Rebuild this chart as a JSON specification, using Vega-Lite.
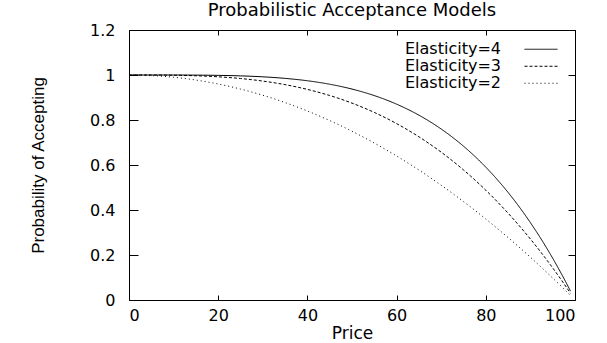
{
  "$schema": "https://vega.github.io/schema/vega-lite/v6.json",
  "width": 446,
  "height": 270,
  "autosize": {"type": "none"},
  "padding": {"left": 129, "top": 30, "right": 32, "bottom": 43},
  "background": "white",
  "config": {
    "font": "DejaVu Sans",
    "view": {"stroke": "black", "strokeWidth": 1},
    "axis": {"grid": false, "domainColor": "black", "tickColor": "black", "labelColor": "black", "titleColor": "black", "labelFont": "DejaVu Sans", "titleFont": "DejaVu Sans", "titleFontWeight": "normal", "labelFontSize": 16, "titleFontSize": 17}
  },
  "title": {"text": "Probabilistic Acceptance Models", "font": "DejaVu Sans", "fontSize": 18, "fontWeight": "normal", "color": "black", "offset": 2},
  "data": {"values": [
    {"price": 0, "prob": 1, "series": "Elasticity=4"},
    {"price": 5, "prob": 0.99999, "series": "Elasticity=4"},
    {"price": 10, "prob": 0.9999, "series": "Elasticity=4"},
    {"price": 15, "prob": 0.9995, "series": "Elasticity=4"},
    {"price": 20, "prob": 0.9984, "series": "Elasticity=4"},
    {"price": 25, "prob": 0.9961, "series": "Elasticity=4"},
    {"price": 30, "prob": 0.9919, "series": "Elasticity=4"},
    {"price": 35, "prob": 0.985, "series": "Elasticity=4"},
    {"price": 40, "prob": 0.9744, "series": "Elasticity=4"},
    {"price": 45, "prob": 0.959, "series": "Elasticity=4"},
    {"price": 50, "prob": 0.9375, "series": "Elasticity=4"},
    {"price": 55, "prob": 0.9085, "series": "Elasticity=4"},
    {"price": 60, "prob": 0.8704, "series": "Elasticity=4"},
    {"price": 65, "prob": 0.8215, "series": "Elasticity=4"},
    {"price": 70, "prob": 0.7599, "series": "Elasticity=4"},
    {"price": 75, "prob": 0.6836, "series": "Elasticity=4"},
    {"price": 80, "prob": 0.5904, "series": "Elasticity=4"},
    {"price": 85, "prob": 0.478, "series": "Elasticity=4"},
    {"price": 90, "prob": 0.3439, "series": "Elasticity=4"},
    {"price": 95, "prob": 0.1855, "series": "Elasticity=4"},
    {"price": 97, "prob": 0.1147, "series": "Elasticity=4"},
    {"price": 99, "prob": 0.0394, "series": "Elasticity=4"},
    {"price": 0, "prob": 1, "series": "Elasticity=3"},
    {"price": 5, "prob": 0.999875, "series": "Elasticity=3"},
    {"price": 10, "prob": 0.999, "series": "Elasticity=3"},
    {"price": 15, "prob": 0.996625, "series": "Elasticity=3"},
    {"price": 20, "prob": 0.992, "series": "Elasticity=3"},
    {"price": 25, "prob": 0.984375, "series": "Elasticity=3"},
    {"price": 30, "prob": 0.973, "series": "Elasticity=3"},
    {"price": 35, "prob": 0.957125, "series": "Elasticity=3"},
    {"price": 40, "prob": 0.936, "series": "Elasticity=3"},
    {"price": 45, "prob": 0.908875, "series": "Elasticity=3"},
    {"price": 50, "prob": 0.875, "series": "Elasticity=3"},
    {"price": 55, "prob": 0.833625, "series": "Elasticity=3"},
    {"price": 60, "prob": 0.784, "series": "Elasticity=3"},
    {"price": 65, "prob": 0.725375, "series": "Elasticity=3"},
    {"price": 70, "prob": 0.657, "series": "Elasticity=3"},
    {"price": 75, "prob": 0.578125, "series": "Elasticity=3"},
    {"price": 80, "prob": 0.488, "series": "Elasticity=3"},
    {"price": 85, "prob": 0.385875, "series": "Elasticity=3"},
    {"price": 90, "prob": 0.271, "series": "Elasticity=3"},
    {"price": 95, "prob": 0.142625, "series": "Elasticity=3"},
    {"price": 97, "prob": 0.0873, "series": "Elasticity=3"},
    {"price": 99, "prob": 0.0297, "series": "Elasticity=3"},
    {"price": 0, "prob": 1, "series": "Elasticity=2"},
    {"price": 5, "prob": 0.9975, "series": "Elasticity=2"},
    {"price": 10, "prob": 0.99, "series": "Elasticity=2"},
    {"price": 15, "prob": 0.9775, "series": "Elasticity=2"},
    {"price": 20, "prob": 0.96, "series": "Elasticity=2"},
    {"price": 25, "prob": 0.9375, "series": "Elasticity=2"},
    {"price": 30, "prob": 0.91, "series": "Elasticity=2"},
    {"price": 35, "prob": 0.8775, "series": "Elasticity=2"},
    {"price": 40, "prob": 0.84, "series": "Elasticity=2"},
    {"price": 45, "prob": 0.7975, "series": "Elasticity=2"},
    {"price": 50, "prob": 0.75, "series": "Elasticity=2"},
    {"price": 55, "prob": 0.6975, "series": "Elasticity=2"},
    {"price": 60, "prob": 0.64, "series": "Elasticity=2"},
    {"price": 65, "prob": 0.5775, "series": "Elasticity=2"},
    {"price": 70, "prob": 0.51, "series": "Elasticity=2"},
    {"price": 75, "prob": 0.4375, "series": "Elasticity=2"},
    {"price": 80, "prob": 0.36, "series": "Elasticity=2"},
    {"price": 85, "prob": 0.2775, "series": "Elasticity=2"},
    {"price": 90, "prob": 0.19, "series": "Elasticity=2"},
    {"price": 95, "prob": 0.0975, "series": "Elasticity=2"},
    {"price": 97, "prob": 0.0591, "series": "Elasticity=2"},
    {"price": 99, "prob": 0.0199, "series": "Elasticity=2"}
  ]},
  "layer": [
    {
      "mark": {"type": "line", "color": "black", "strokeWidth": 1, "interpolate": "monotone"},
      "encoding": {
        "x": {"field": "price", "type": "quantitative", "scale": {"domain": [0, 100], "nice": false, "zero": false},
              "axis": {"orient": "bottom", "values": [0, 20, 40, 60, 80, 100], "tickSize": -5, "labelPadding": 12, "title": "Price", "titlePadding": 2, "domain": false}},
        "y": {"field": "prob", "type": "quantitative", "scale": {"domain": [0, 1.2], "nice": false},
              "axis": {"orient": "left", "values": [0, 0.2, 0.4, 0.6, 0.8, 1, 1.2], "format": ".1~f", "tickSize": -9, "labelPadding": 23, "title": "Probability of Accepting", "titlePadding": 42, "titleFont": "Liberation Sans", "titleFontSize": 17, "domain": false}},
        "strokeDash": {"field": "series", "type": "nominal",
          "scale": {"domain": ["Elasticity=4", "Elasticity=3", "Elasticity=2"], "range": [[1, 0], [3, 2], [1, 3]]},
          "legend": {"title": null, "orient": "none", "legendX": 242, "legendY": 11, "padding": 0, "symbolType": "stroke", "symbolStrokeColor": "black", "symbolStrokeWidth": 1, "symbolSize": 100, "labelFontSize": 16, "labelColor": "black", "labelFont": "DejaVu Sans", "clipHeight": 16.5, "rowPadding": 0, "labelOffset": 0,
            "encode": {
              "symbols": {"update": {"x": {"value": 170}, "size": {"value": 1089}}},
              "entries": {"update": {"width": {"value": 200}}}
            }}},
        "detail": {"field": "series"}
      }
    },
    {
      "mark": {"type": "line", "opacity": 0},
      "encoding": {
        "x": {"field": "price", "type": "quantitative", "axis": {"orient": "top", "values": [0, 20, 40, 60, 80, 100], "tickSize": -5, "labels": false, "title": null, "domain": false}},
        "y": {"field": "prob", "type": "quantitative", "axis": {"orient": "right", "values": [0, 0.2, 0.4, 0.6, 0.8, 1, 1.2], "tickSize": -7, "labels": false, "title": null, "domain": false}},
        "detail": {"field": "series"}
      }
    }
  ],
  "resolve": {"axis": {"x": "independent", "y": "independent"}}
}
